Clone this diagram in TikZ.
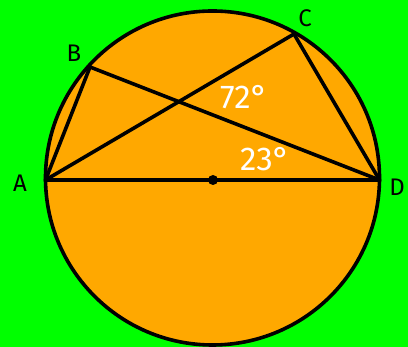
\documentclass[tikz,border=0pt]{standalone}
\usepackage{fontspec}
\setmainfont{Fira Sans}
\tikzset{
  chord/.style={line width=3.6pt, line cap=round, line join=round, black},
  ptlabel/.style={font=\fontsize{24}{24}\selectfont, text=black, inner sep=0pt},
  anglabel/.style={font=\fontsize{33}{33}\selectfont, text=white, inner sep=0pt}
}
\begin{document}
\begin{tikzpicture}[x=1pt,y=-1pt]
\fill[green] (0,0) rectangle (408,347);
\useasboundingbox (0,0) rectangle (408,347);
\coordinate (O) at (212.5,178);
\fill[orange!100!yellow, fill={rgb,255:red,255;green,168;blue,0}] (O) circle (167);
\coordinate (A) at (45.5,180);
\coordinate (D) at (379.5,180);
\coordinate (B) at (90,67);
\coordinate (C) at (294,34);
\draw[chord] (A) -- (D);
\draw[chord] (A) -- (B) -- (D);
\draw[chord] (A) -- (C) -- (D);
\draw[line width=3.6pt] (O) circle (167);
\fill (213,180) circle (5);
\node[ptlabel] (la) at (20,183) {A};
\node[ptlabel] (lb) at (74,53) {B};
\node[ptlabel] (lc) at (305,18) {C};
\node[ptlabel] (ld) at (397,187) {D};
\node[anglabel] (a72) at (244,97) {72°};
\node[anglabel] (a23) at (265,159) {23°};
\end{tikzpicture}
\end{document}
